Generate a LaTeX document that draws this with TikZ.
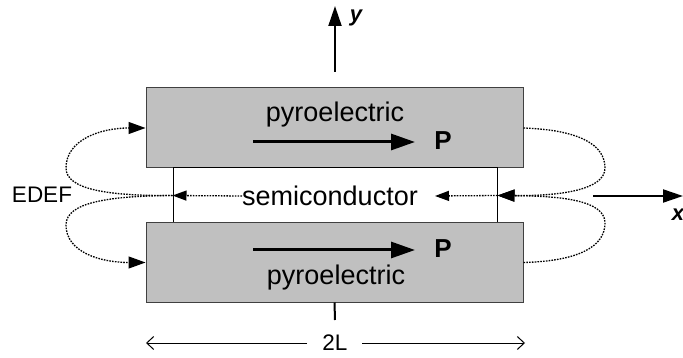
\documentclass[tikz,border=0pt]{standalone}
\usepackage{fontspec}
\setmainfont{Liberation Sans}
\usetikzlibrary{arrows.meta}
\definecolor{boxgray}{HTML}{C0C0C0}
\definecolor{edgegray}{HTML}{404040}
\tikzset{
  slab/.style={draw=edgegray,line width=1pt,fill=boxgray,minimum width=377pt,minimum height=80pt,inner sep=0pt},
  semibox/.style={draw=black,line width=1pt,fill=white,minimum width=324pt,minimum height=55pt,inner sep=0pt},
  bigtxt/.style={font=\fontsize{27}{31}\selectfont,inner sep=0pt},
  midtxt/.style={font=\fontsize{22.5}{26}\selectfont,inner sep=0pt},
  ptxt/.style={font=\fontsize{26}{30}\selectfont\bfseries,inner sep=0pt},
  axtxt/.style={font=\fontsize{22}{26}\selectfont\bfseries\itshape,inner sep=0pt},
  edef/.style={line width=1.3pt,dash pattern=on 1.6pt off 1.2pt},
  edefout/.style={edef,-{Triangle[length=17pt,width=12pt]}},
  edefin/.style={edef,-{Triangle[length=14pt,width=10pt]}},
  parrow/.style={line width=3pt,-{Triangle[length=24pt,width=16pt]}},
  axis/.style={line width=2pt,-{Triangle[length=20pt,width=13pt]}},
  dim/.style={line width=1pt,-{Straight Barb[length=7pt,width=13pt]}}
}
\begin{document}
\begin{tikzpicture}[x=1pt,y=-1pt]
\useasboundingbox (0,0) rectangle (683,358);
% slabs
\node[slab] (top) at (334.5,128) {};
\node[semibox] (semi) at (335,195.5) {};
\node[slab,minimum height=79pt] (bot) at (334.5,262.5) {};
% texts
\node[bigtxt] (pyt) at (335,115) {pyroelectric};
\node[bigtxt] (pyb) at (336,278) {pyroelectric};
\node[bigtxt] (sc) at (330,196) {semiconductor};
\node[ptxt] (pt) at (443,141) {P};
\node[ptxt] (pb) at (443,249) {P};
\node[midtxt] (edeft) at (42,195) {EDEF};
\node[midtxt] (twol) at (335,343) {2L};
\node[axtxt] (ylab) at (356,18) {y};
\node[axtxt] (xlab) at (678,215) {x};
% polarisation arrows
\coordinate (pts) at (253,142);
\coordinate (pte) at (415,142);
\coordinate (pbs) at (253,250);
\coordinate (pbe) at (415,250);
\draw[parrow] (pts) -- (pte);
\draw[parrow] (pbs) -- (pbe);
% axes
\coordinate (ys) at (335,72);
\coordinate (ye) at (335,6);
\coordinate (xs) at (593,196);
\coordinate (xe) at (683,196);
\draw[axis] (ys) -- (ye);
\draw[axis] (xs) -- (xe);
% tick below
\coordinate (tk) at (335,320);
\draw[line width=2pt] (bot.south) -- (tk);
% 2L dimension
\coordinate (dl) at (146,343);
\coordinate (dr) at (525,343);
\coordinate (dls) at (307,343);
\coordinate (drs) at (362,343);
\draw[dim] (dls) -- (dl);
\draw[dim] (drs) -- (dr);
% EDEF field lines
\coordinate (ia) at (435,196);
\coordinate (ib) at (242,196);
\draw[edefin] (semi.east) -- (ia);
\draw[edefin] (ib) -- (semi.west);
\draw[edefout] (semi.west) .. controls (110,196) and (66,190) .. (66,168) .. controls (66,140) and (100,128) .. (top.west);
\draw[edefout] (semi.west) .. controls (110,196) and (66,202) .. (66,225) .. controls (66,252) and (100,262.5) .. (bot.west);
\draw[edefout] (top.east) .. controls (580,130) and (605,145) .. (605,168) .. controls (605,190) and (560,196) .. (semi.east);
\draw[edefout] (bot.east) .. controls (580,261) and (605,246) .. (605,223) .. controls (605,200) and (560,196) .. (semi.east);
\end{tikzpicture}
\end{document}
